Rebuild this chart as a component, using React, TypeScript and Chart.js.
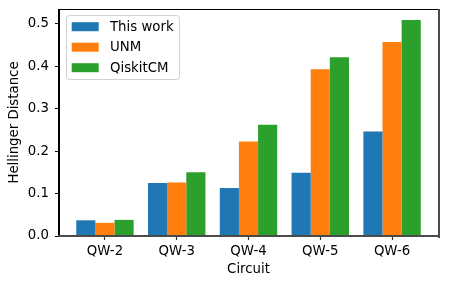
import React, { useEffect, useRef } from "react";
import { Chart, registerables } from "chart.js";

Chart.register(...registerables);

const circuits = ["QW-2", "QW-3", "QW-4", "QW-5", "QW-6"];
const thisWork = [0.037, 0.125, 0.113, 0.149, 0.246];
const unm = [0.031, 0.126, 0.223, 0.393, 0.457];
const qiskitCM = [0.038, 0.15, 0.262, 0.421, 0.509];
const yTicks = [0, 0.1, 0.2, 0.3, 0.4, 0.5];

const seriesNames = ["This work", "UNM", "QiskitCM"];
const colors = ["#1f77b4", "#ff7f0e", "#2ca02c"];
const FONT = "'DejaVu Sans', sans-serif";

function zeroPad(scale: any) {
  scale.paddingTop = 0;
  scale.paddingBottom = 0;
  scale.paddingLeft = 0;
  scale.paddingRight = 0;
}

export default function App() {
  const ref = useRef<HTMLCanvasElement>(null);
  useEffect(() => {
    document.body.style.margin = "0";
    const ctx = ref.current!;
    const series = [thisWork, unm, qiskitCM];
    const framePlugin = {
      id: "frame",
      afterDraw(chart: any) {
        const c = chart.ctx;
        const a = chart.chartArea;
        c.save();
        const L = Math.round(a.left);
        const T = Math.round(a.top);
        const R = Math.round(a.right);
        const B = Math.round(a.bottom);
        c.fillStyle = "#000";
        c.fillRect(L, T, R - L + 1, 1);
        c.fillRect(L - 1, T, 1, B - T + 1);
        c.fillStyle = "#4a4a4a";
        c.fillRect(R, T, 2, B - T + 2);
        c.fillRect(L - 1, B - 1, R - L + 1, 2);
        // legend
        const bx = a.left + 7.5;
        const by = a.top + 6.5;
        const bw = 113;
        const bh = 64;
        c.beginPath();
        if ((c as any).roundRect) (c as any).roundRect(bx, by, bw, bh, 3);
        else c.rect(bx, by, bw, bh);
        c.fillStyle = "rgba(255,255,255,0.8)";
        c.fill();
        c.strokeStyle = "#d0d0d0";
        c.lineWidth = 1;
        c.stroke();
        c.font = `13.3px ${FONT}`;
        c.textBaseline = "middle";
        c.textAlign = "left";
        for (let i = 0; i < 3; i++) {
          const cy = a.top + 17.7 + i * 20.5;
          c.fillStyle = colors[i];
          c.fillRect(a.left + 12.7, cy - 4.5, 27, 9);
          c.fillStyle = "#000";
          c.fillText(seriesNames[i], a.left + 51, cy + 0.5);
        }
        // axis titles
        c.font = `13.3px ${FONT}`;
        c.textAlign = "center";
        c.fillText("Circuit", (a.left + a.right) / 2, 270);
        c.translate(15, (a.top + a.bottom) / 2);
        c.rotate(-Math.PI / 2);
        c.fillText("Hellinger Distance", 0, 0);
        c.restore();
      },
    };
    const chart = new Chart(ctx, {
      type: "bar",
      data: {
        datasets: series.map((s, i) => ({
          label: seriesNames[i],
          data: s.map((v, j) => ({ x: j, y: v })),
          backgroundColor: colors[i],
          borderWidth: 0,
          categoryPercentage: 0.8,
          barPercentage: 1.0,
        })),
      },
      options: {
        responsive: false,
        animation: false,
        layout: { padding: { left: 0, right: 11, top: 9, bottom: 0 } },
        plugins: { legend: { display: false }, tooltip: { enabled: false } },
        scales: {
          x: {
            type: "linear",
            offset: false,
            min: -0.64,
            max: 4.64,
            afterBuildTicks: (scale: any) => {
              scale.ticks = circuits.map((_, i) => ({ value: i }));
            },
            afterFit: (scale: any) => {
              scale.height = 51;
              zeroPad(scale);
            },
            grid: { offset: false, drawOnChartArea: false, drawTicks: true, tickLength: 4, tickColor: "#333", tickWidth: 1.2 },
            border: { display: true, color: "#333", width: 1 },
            ticks: {
              autoSkip: false,
              maxRotation: 0,
              padding: 4,
              color: "#000",
              font: { family: FONT, size: 13.3 },
              callback: (v: any) => circuits[Math.round(Number(v))] ?? "",
            },
          },
          y: {
            min: 0,
            max: 0.535,
            afterBuildTicks: (scale: any) => {
              scale.ticks = yTicks.map((v) => ({ value: v }));
            },
            afterFit: (scale: any) => {
              scale.width = 59;
              zeroPad(scale);
            },
            grid: { drawOnChartArea: false, drawTicks: true, tickLength: 4, tickColor: "#000", tickWidth: 1 },
            border: { display: true, color: "#000", width: 1 },
            ticks: {
              padding: 6,
              color: "#000",
              font: { family: FONT, size: 13.3 },
              callback: (v: any) => Number(v).toFixed(1),
            },
          },
        },
      },
      plugins: [framePlugin],
    } as any);
    return () => chart.destroy();
  }, []);
  return (
    <div style={{ position: "absolute", left: 0, top: 0, width: 449, height: 287, background: "#fff" }}>
      <canvas ref={ref} width={449} height={287} />
    </div>
  );
}
